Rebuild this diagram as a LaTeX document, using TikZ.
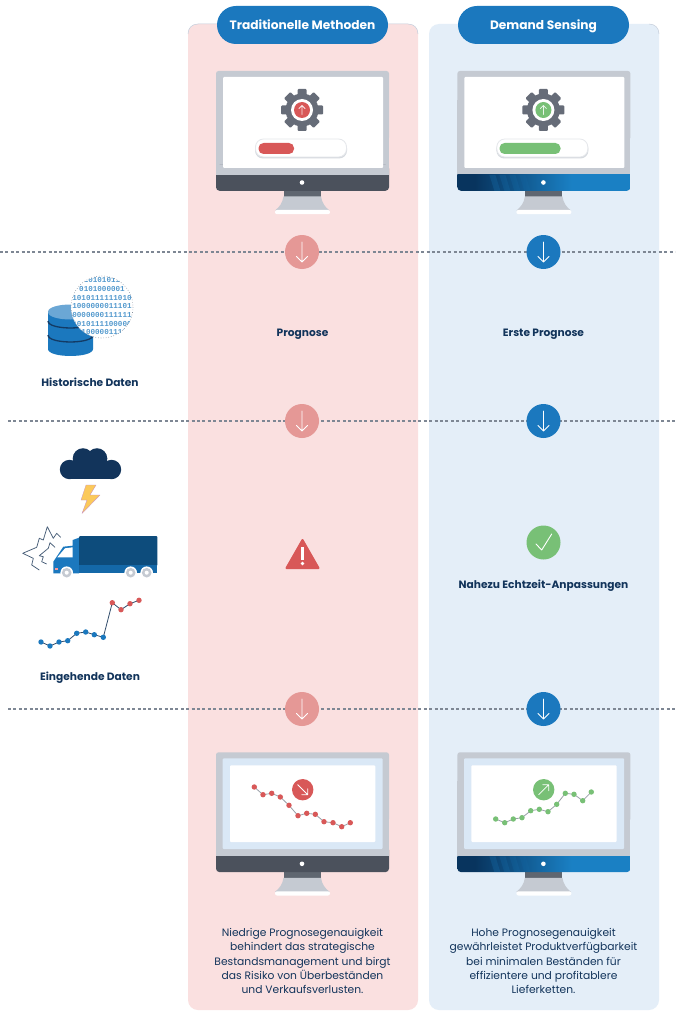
\documentclass[tikz,border=0pt]{standalone}
\usepackage{fontspec}
\setmainfont{Poppins}
\newfontfamily\binfont{Liberation Mono}
\definecolor{panelred}{HTML}{FAE0E0}
\definecolor{panelblue}{HTML}{E4EEF8}
\definecolor{pillblue}{HTML}{1B78BE}
\definecolor{softred}{HTML}{E59896}
\definecolor{mred}{HTML}{D85858}
\definecolor{mgreen}{HTML}{78C076}
\definecolor{framec}{HTML}{C5CAD2}
\definecolor{darkband}{HTML}{4B515C}
\definecolor{neckc}{HTML}{5F6670}
\definecolor{gearc}{HTML}{666C78}
\definecolor{navy}{HTML}{12345B}
\definecolor{dashc}{HTML}{7E8794}
\definecolor{screenblue}{HTML}{DAE8F6}
\definecolor{chartline}{HTML}{9AA0A8}
\definecolor{bandA}{HTML}{08345E}
\definecolor{bandB}{HTML}{1A80C4}
\definecolor{truckdark}{HTML}{0D4C7C}
\definecolor{truckmid}{HTML}{1468A8}
\definecolor{boltc}{HTML}{FBC95A}
\definecolor{edgec}{HTML}{C3CCDA}
\pgfdeclarehorizontalshading{bandshadeb}{100bp}{
 color(0bp)=(bandA);color(30bp)=(bandA);color(58bp)=(bandB);color(100bp)=(bandB)}
\tikzset{
 x=1pt,y=-1pt,
 panel/.style={draw=none,minimum width=230pt,minimum height=986pt,rounded corners=10pt,inner sep=0pt},
 pill/.style={fill=pillblue,draw=none,rounded corners=19pt,minimum width=171pt,minimum height=38pt,inner sep=0pt,
   text=white,font=\fontsize{12.2}{14}\selectfont\bfseries},
 divider/.style={dashc,line width=1.2pt,dash pattern=on 3pt off 2.4pt},
 disc/.style={circle,minimum size=34pt,inner sep=0pt,draw=none},
 arrowline/.style={white,line width=0.9pt,line cap=round,line join=round},
 lbl/.style={text=navy,font=\fontsize{10.65}{12}\selectfont\bfseries,inner sep=0pt},
 para/.style={text=navy,font=\fontsize{10.72}{14.4}\selectfont,align=center,inner sep=0pt},
}
% monitor frame: #1 x shift, #2 y shift
\newcommand\monitorbody[2]{%
 \begin{scope}[shift={(#1,#2)}]
  \fill[framec,rounded corners=2.5pt] (216,71) rectangle (389,140);
  \fill[framec] (216,100) rectangle (389,175);
  \fill[neckc] (283.5,190) rectangle (321,197);
  \fill[framec] (283.5,196.5) -- (321,196.5) .. controls (322,203) and (325,207) .. (329.5,210.5)
     -- (275,210.5) .. controls (279.5,207) and (282.5,203) .. (283.5,196.5) -- cycle;
  \fill[white,rounded corners=2pt] (275,210) rectangle (330,214.2);
 \end{scope}}
\newcommand\monitorband[3]{%
 \begin{scope}[shift={(#1,#2)}]
  #3
  \fill[white] (302,182.5) circle (2.3);
 \end{scope}}
\newcommand\plainband{\fill[darkband,rounded corners=3.5pt] (216,165) rectangle (389,190.8);\fill[framec] (216,165) rectangle (389,175);}
\newcommand\blueband{\begin{scope}
  \clip[rounded corners=3.5pt] (216,165) rectangle (389,190.8);
  \shade[shading=bandshadeb] (216,175) rectangle (389,191);
  \foreach \bx/\bo in {248/.22,258/.18,268/.14,278/.1}{\fill[bandB,opacity=\bo] (\bx,175) -- (\bx+6,175) -- (\bx+11,191) -- (\bx+5,191) -- cycle;}
 \end{scope}}
\newcommand\gearicon[3]{% x,y,colour
 \begin{scope}[shift={(#1,#2)}]
  \fill[gearc] (0,0) circle (16.5);
  \foreach \rr in {0,45,...,315}{\fill[gearc,rotate=\rr,rounded corners=1pt] (-4.5,-21) rectangle (4.5,-12);}
  \fill[white] (0,0) circle (11);
  \fill[#3] (0,0) circle (8);
  \draw[arrowline,line width=.8pt,opacity=.85] (0,4.5) -- (0,-4.5) (-3,-1.5) -- (0,-4.5) -- (3,-1.5);
 \end{scope}}
\newcommand\discarrow[1]{\draw[arrowline] ([yshift=10pt]#1.center) -- ([yshift=-10pt]#1.center)
  ([xshift=-5.5pt,yshift=-4.5pt]#1.center) -- ([yshift=-10pt]#1.center) -- ([xshift=5.5pt,yshift=-4.5pt]#1.center);}
\begin{document}
\begin{tikzpicture}
\useasboundingbox (0,0) rectangle (683,1024);
\fill[white] (0,0) rectangle (683,1024);
% panels
\node[panel,fill=panelred]  (panelL) at (303,517) {};
\node[panel,fill=panelblue] (panelR) at (544,517) {};
\draw[edgec,line width=.5pt] (188,34) .. controls (188,28) and (192,24) .. (198,24) -- (408,24) .. controls (414,24) and (418,28) .. (418,34);
\draw[edgec,line width=.5pt] (649,24) .. controls (655,24) and (659,28) .. (659,34);
% dividers
\coordinate (d1a) at (0,252);   \coordinate (d1b) at (675,252);
\coordinate (d2a) at (8,421);   \coordinate (d2b) at (675,421);
\coordinate (d3a) at (8,709);   \coordinate (d3b) at (675,709);
\draw[divider] (d1a) -- (d1b);
\draw[divider] (d2a) -- (d2b);
\draw[divider] (d3a) -- (d3b);
% header pills
\node[pill] (pillL) at (302.5,25) {Traditionelle Methoden};
\node[pill] (pillR) at (543.5,25) {};
\node[text=white,font=\fontsize{12.2}{14}\selectfont\bfseries,inner sep=0pt] (pillRtext) at (543.5,26) {Demand Sensing};
% top monitors
\monitorbody{0}{0}
\monitorband{0}{0}{\plainband}
\fill[white,rounded corners=1pt] (223,77) rectangle (383,168);
\gearicon{302}{110}{mred}
\fill[framec!70!white,rounded corners=8pt] (255,140.5) rectangle (347,158.5);
\node[fill=white,draw=framec!45!white,line width=.8pt,rounded corners=8pt,minimum width=91pt,minimum height=18pt,inner sep=0pt] (barL) at (301,148) {};
\fill[mred,rounded corners=5pt] (258.5,143) rectangle (294,154);
\monitorbody{241.4}{0}
\monitorband{241.4}{0}{\blueband}
\fill[white,rounded corners=1pt] (464.4,77) rectangle (624.4,168);
\gearicon{543.4}{110}{mgreen}
\fill[framec!70!white,rounded corners=8pt] (496.4,140.5) rectangle (588.4,158.5);
\node[fill=white,draw=framec!45!white,line width=.8pt,rounded corners=8pt,minimum width=91pt,minimum height=18pt,inner sep=0pt] (barR) at (542.3,148) {};
\fill[mgreen,rounded corners=5pt] (499.5,143) rectangle (560.5,154);
% discs
\node[disc,fill=softred]  (c1L) at (302,252) {}; \discarrow{c1L}
\node[disc,fill=pillblue] (c1R) at (543.5,252) {}; \discarrow{c1R}
\node[disc,fill=softred]  (c2L) at (302,421) {}; \discarrow{c2L}
\node[disc,fill=pillblue] (c2R) at (543.5,421) {}; \discarrow{c2R}
\node[disc,fill=softred]  (c3L) at (302,709) {}; \discarrow{c3L}
\node[disc,fill=pillblue] (c3R) at (543.5,709) {}; \discarrow{c3R}
% labels
\node[lbl] (prog) at (302.5,334) {Prognose};
\node[lbl] (erste) at (543.5,334) {Erste Prognose};
\node[lbl] (hist) at (90,382.5) {Historische Daten};
\node[lbl] (ein) at (90,678) {Eingehende Daten};
\node[lbl] (nahezu) at (543.5,585.5) {Nahezu Echtzeit-Anpassungen};
% database
\fill[pillblue] (48,312) -- (48,349) .. controls (48,358.3) and (93,358.3) .. (93,349) -- (93,312) -- cycle;
\draw[navy!90!pillblue,line width=1.3pt] (48,321) .. controls (48,330.3) and (93,330.3) .. (93,321);
\draw[navy!90!pillblue,line width=1.3pt] (48,335) .. controls (48,344.3) and (93,344.3) .. (93,335);
\fill[pillblue!65!white] (48,312) .. controls (48,302) and (93,302) .. (93,312) .. controls (93,322) and (48,322) .. (48,312) -- cycle;
% binary lens
\begin{scope}
 \clip (102,307) circle (31);
 \fill[white] (102,307) circle (31);
 \foreach \yy/\bintxt in {280/1101010111,288.8/0101000001,297.5/1010111111010,306/1000000011101,315/0000000111111,323.5/1010111100000,332.3/0110000011100}{
  \node[text=pillblue!75!white,font=\binfont\bfseries\fontsize{7.6}{8}\selectfont,inner sep=0pt] at (102,\yy) {\bintxt};}
\end{scope}
\draw[dashc,line width=.6pt,dotted] (102,307) circle (31);
% cloud
\fill[navy] (83,458.5) circle (10.3) (97,458.5) circle (10.3) (69.5,469.5) circle (9.7) (111.5,469.5) circle (9.7);
\fill[navy] (69.5,462) rectangle (111.5,479.2);
% bolt
\fill[boltc,draw=violet!45!white,line width=.3pt,line join=round]
 (86,485) -- (96,485) -- (90,495) -- (100,495) -- (82,513.5) -- (87,500) -- (81,500) -- cycle;
% truck
\fill[pillblue] (53.3,573.3) -- (53.3,561.7) -- (63.3,546.7) -- (72.7,545.7) -- (72.7,540) -- (79,537.7) -- (79,573.3) -- cycle;
\fill[white] (57.3,557.3) -- (65,548.3) -- (72.7,547.3) -- (72.7,557.3) -- cycle;
\fill[red!40!white] (54.7,567.5) rectangle (57.5,570);
\fill[truckdark,rounded corners=1pt] (79,536) rectangle (157.3,566);
\fill[truckmid] (79,565) rectangle (157.3,573.3);
\foreach \wx in {66.7,130.7,146.7}{
 \fill[white] (\wx,572.7) circle (6.3);
 \fill[framec] (\wx,572.7) circle (4.8);
 \fill[white] (\wx,572.7) circle (2);}
% crash lines
\draw[dashc!50!navy,line width=.75pt,line join=round] (39.3,570) -- (31.7,565) -- (33.3,558.3) -- (22.7,553.3) -- (36.7,547.3) -- (39.3,538.3) -- (43.3,540) -- (47.3,526.7) -- (53.3,538.3) -- (56.7,533.3) -- (60.7,537.3);
\draw[dashc!50!navy,line width=.75pt,line join=round] (46.7,564) -- (41.7,561.7) -- (43.3,556.7) -- (39.3,555.7) -- (48.3,548.3) -- (50,542.7) -- (55,547.3);
% input chart
\draw[navy!70!dashc,line width=.8pt] plot coordinates {(41,642) (50,646) (59,642) (67.7,640.7) (76.7,633.3) (85.7,632) (94.3,634.7) (103.3,637.3) (112.3,602.7) (121,609.7) (130,603.7) (139,600.3)};
\foreach \p in {(41,642),(50,646),(59,642),(67.7,640.7),(76.7,633.3),(85.7,632),(94.3,634.7),(103.3,637.3)}{\fill[pillblue] \p circle (2.7);}
\foreach \p in {(112.3,602.7),(121,609.7),(130,603.7),(139,600.3)}{\fill[mred] \p circle (2.7);}
% warning / check
\fill[mred,draw=mred,line width=2pt,line join=round] (302.5,540) -- (318.5,568) -- (286.5,568) -- cycle;
\fill[white] (301,547) rectangle (304,560);
\fill[white] (302.5,563.5) circle (1.8);
\node[disc,fill=mgreen] (ok) at (543.5,542.5) {};
\draw[arrowline] ([xshift=-7.5pt,yshift=-1.5pt]ok.center) -- ([xshift=-1.8pt,yshift=-7.5pt]ok.center) -- ([xshift=8.2pt,yshift=8.5pt]ok.center);
% bottom monitors
\monitorbody{0}{681.3}
\monitorband{0}{681.3}{\plainband}
\fill[screenblue,rounded corners=1pt] (222.7,758.3) rectangle (382.7,849);
\fill[white,rounded corners=1pt] (230,765.3) rectangle (375.3,842);
\draw[chartline,line width=.8pt] plot coordinates {(254.3,787) (263,794.7) (271.7,793.3) (280.3,797) (289,805.3) (298,815.7) (306.7,813.3) (315.3,814.3) (324,821.7) (333,822.7) (341.7,826.7) (350.3,822.7)};
\foreach \p in {(254.3,787),(263,794.7),(271.7,793.3),(280.3,797),(289,805.3),(298,815.7),(306.7,813.3),(315.3,814.3),(324,821.7),(333,822.7),(341.7,826.7),(350.3,822.7)}{\fill[mred] \p circle (2.7);}
\node[circle,fill=mred,minimum size=21.4pt,inner sep=0pt] (trendL) at (302.7,789.7) {};
\draw[arrowline,line width=.8pt] ([xshift=-5pt,yshift=5pt]trendL.center) -- ([xshift=5pt,yshift=-5pt]trendL.center)
 ([xshift=-1pt,yshift=-5pt]trendL.center) -- ([xshift=5pt,yshift=-5pt]trendL.center) -- ([xshift=5pt,yshift=1pt]trendL.center);
\monitorbody{241.4}{681.3}
\monitorband{241.4}{681.3}{\blueband}
\fill[screenblue,rounded corners=1pt] (464.1,758.3) rectangle (624.1,849);
\fill[white,rounded corners=1pt] (471.4,765.3) rectangle (616.7,842);
\draw[chartline,line width=.8pt] plot coordinates {(495.7,819) (504.7,822.7) (513.3,819) (522,817.7) (530.7,810.7) (539.3,809.3) (548,811.7) (556.7,804.3) (565.3,793.3) (574,794.3) (582.7,800.7) (591.3,792)};
\foreach \p in {(495.7,819),(504.7,822.7),(513.3,819),(522,817.7),(530.7,810.7),(539.3,809.3),(548,811.7),(556.7,804.3),(565.3,793.3),(574,794.3),(582.7,800.7),(591.3,792)}{\fill[mgreen] \p circle (2.7);}
\node[circle,fill=mgreen,minimum size=21.4pt,inner sep=0pt] (trendR) at (543.7,789.7) {};
\draw[arrowline,line width=.8pt] ([xshift=-5pt,yshift=-5pt]trendR.center) -- ([xshift=5pt,yshift=5pt]trendR.center)
 ([xshift=-1pt,yshift=5pt]trendR.center) -- ([xshift=5pt,yshift=5pt]trendR.center) -- ([xshift=5pt,yshift=-1pt]trendR.center);
% paragraphs
\node[para] (textL) at (302.5,961) {Niedrige Prognosegenauigkeit\\behindert das strategische\\Bestandsmanagement und birgt\\das Risiko von Überbeständen\\und Verkaufsverlusten.};
\node[para] (textR) at (543.5,961) {Hohe Prognosegenauigkeit\\gewährleistet Produktverfügbarkeit\\bei minimalen Beständen für\\effizientere und profitablere\\Lieferketten.};
\end{tikzpicture}
\end{document}
